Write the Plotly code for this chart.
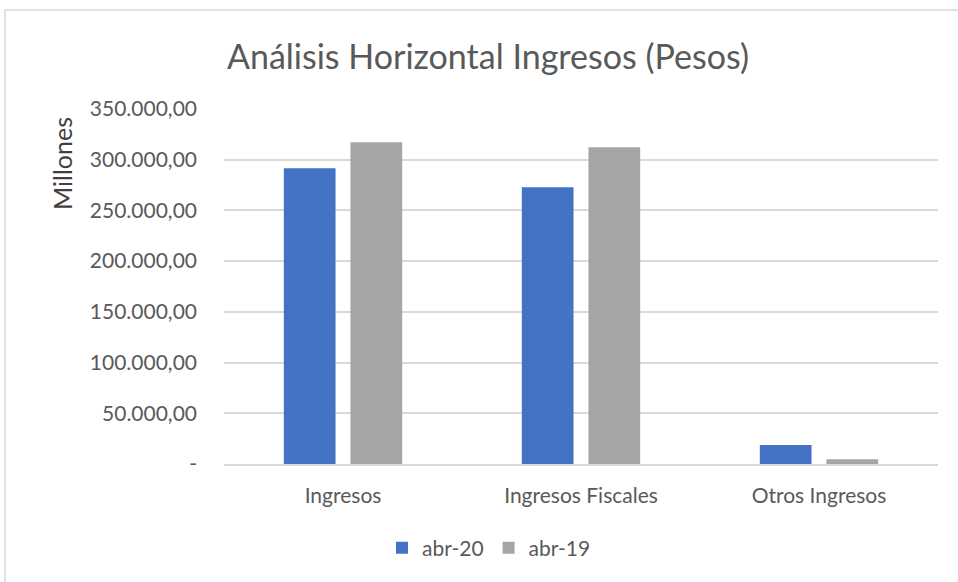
import plotly.graph_objects as go

categories = ["Ingresos", "Ingresos Fiscales", "Otros Ingresos"]
abr20 = [291500, 272800, 18700]
abr19 = [317200, 312200, 4800]
series_names = ["abr-20", "abr-19"]
tick_vals = [0, 50000, 100000, 150000, 200000, 250000, 300000, 350000]
tick_text = ["-", "50.000,00", "100.000,00", "150.000,00", "200.000,00",
             "250.000,00", "300.000,00", "350.000,00"]

FONT = "Lato"
W, H = 958, 582
L, R, T, B = 224, 20, 109, 118
pw, ph = W - L - R, H - T - B

def px(x):
    return (x - L) / pw

def py(y):
    return (H - B - y) / ph

fig = go.Figure()
fig.add_trace(go.Bar(x=categories, y=abr20, name=series_names[0],
                     marker=dict(color="#4472C4", line=dict(width=0))))
fig.add_trace(go.Bar(x=categories, y=abr19, name=series_names[1],
                     marker=dict(color="#A5A5A5", line=dict(width=0))))

fig.update_layout(
    width=W, height=H,
    margin=dict(l=L, r=R, t=T, b=B, pad=0),
    paper_bgcolor="white", plot_bgcolor="white",
    font=dict(family=FONT, color="#595959", size=21),
    barmode="group", bargap=0.44, bargroupgap=0.224,
    title=dict(text="Análisis Horizontal Ingresos (Pesos)",
               font=dict(family=FONT, size=34, color="#595959"),
               x=488 / W, xanchor="center", xref="container",
               y=1 - 57 / H, yanchor="middle"),
    showlegend=True,
    legend=dict(orientation="h", x=489 / W, xref="container", xanchor="center",
                y=1 - 548 / H, yref="container", yanchor="middle",
                font=dict(size=21, color="#595959"),
                itemwidth=30, traceorder="normal"),
    xaxis=dict(showgrid=False, showline=True, linecolor="#D9D9D9", linewidth=1.5,
               ticks="", tickfont=dict(size=21, color="#595959"),
               ticklabelstandoff=12),
    yaxis=dict(range=[0, 350000], tickvals=tick_vals, ticktext=tick_text,
               showgrid=True, gridcolor="#D9D9D9", gridwidth=1.5,
               zeroline=False, showline=False, ticks="",
               tickfont=dict(size=21, color="#595959"),
               ticklabelstandoff=26),
)

fig.add_annotation(text="Millones", textangle=-90, xref="paper", yref="paper",
                   x=px(62), y=py(164), showarrow=False,
                   font=dict(family=FONT, size=25, color="#404040"),
                   xanchor="center", yanchor="middle")

fig.add_shape(type="rect", xref="paper", yref="paper",
              x0=px(5), x1=px(965), y0=py(590), y1=py(10),
              line=dict(color="#D9D9D9", width=1.5), fillcolor="rgba(0,0,0,0)",
              layer="below")

fig.write_html("out.html", config={"displayModeBar": False},
               post_script="document.body.style.margin='0';document.body.style.overflow='hidden';")
